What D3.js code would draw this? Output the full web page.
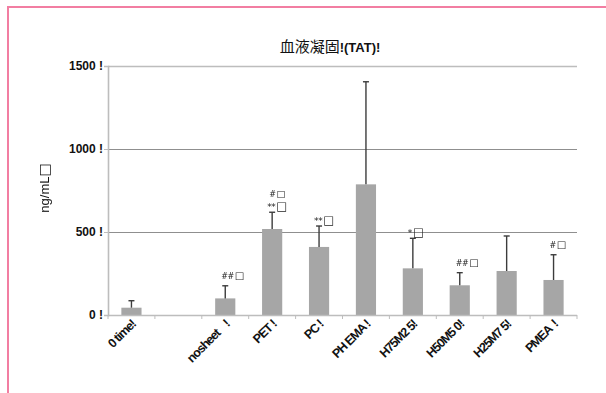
<!DOCTYPE html>
<html>
<head>
<meta charset="utf-8">
<script src="https://cdn.jsdelivr.net/npm/d3@7"></script>
<style>
  html, body { margin: 0; padding: 0; background: #fff; }
  svg { display: block; font-family: "Liberation Sans", Arial, sans-serif; }
  .xl { white-space: pre; }
</style>
</head>
<body>
<svg id="chart" width="606" height="393"></svg>
<script>
// TAT measurements per sheet material (ng/mL), mean and upper SD
const categories = ["0 time!", "", "nosheet    !", "PET !", "PC !", "PH EMA !", "H75M2 5!", "H50M5 0!", "H25M7 5!", "PMEA  !"];
const means      = [44, null, 100, 518, 410, 787, 281, 179, 265, 211];
const upperError = [86, null, 176, 619, 536, 1405, 462, 255, 476, 363];
const markSmall  = ["", "", "##", "#", "", "", "", "##", "", "#"];
const markLarge  = ["", "", "", "**", "**", "", "*", "", "", ""];
const boxGlyph   = "\u25A1";
const yTicks     = [0, 500, 1000, 1500];
const yTickLabels = ["0 !", "500 !", "1000 !", "1500 !"];
const title = "\u8840\u6db2\u51dd\u56fa";
const titleTail = "!(TAT)!";
const yLabel = "ng/mL";

const svg = d3.select("#chart");
const plotLeft = 108, plotRight = 577, plotTop = 66, plotBottom = 315;

// outer frame
svg.append("rect")
  .attr("x", 8).attr("y", 7).attr("width", 700).attr("height", 500)
  .attr("fill", "none").attr("stroke", "#f27ea2").attr("stroke-width", 2);

const x = d3.scaleBand().domain(d3.range(categories.length)).range([plotLeft, plotRight]).paddingInner(0).paddingOuter(0);
const y = d3.scaleLinear().domain([0, 1500]).range([plotBottom, plotTop]);

const defs = svg.append("defs");
defs.append("filter").attr("id", "soft").attr("x", "-20%").attr("y", "-20%").attr("width", "140%").attr("height", "140%")
  .append("feGaussianBlur").attr("stdDeviation", 0.7);
// grayscale text rasterisation for the thin square glyphs
defs.append("filter").attr("id", "flat").attr("x", "-10%").attr("y", "-10%").attr("width", "120%").attr("height", "120%")
  .append("feOffset").attr("dx", 0).attr("dy", 0);

// gridlines
svg.append("g").selectAll("line").data(yTicks.filter(v => v > 0)).join("line")
  .attr("x1", plotLeft).attr("x2", plotRight)
  .attr("y1", d => y(d) + 0.5).attr("y2", d => y(d) + 0.5)
  .attr("stroke", d => d === 1500 ? "#bdbdbd" : "#8f8f8f")
  .attr("stroke-width", d => d === 1500 ? 1.6 : 1);

// bars
const barW = x.bandwidth() * 0.43;
const idx = d3.range(categories.length).filter(i => means[i] != null);
svg.append("g").attr("filter", "url(#soft)").selectAll("rect").data(idx).join("rect")
  .attr("x", i => x(i) + (x.bandwidth() - barW) / 2)
  .attr("width", barW)
  .attr("y", i => y(means[i]))
  .attr("height", i => y(0) - y(means[i]))
  .attr("fill", "#a6a6a6");

// error bars (upper only)
const eg = svg.append("g").attr("stroke", "#3c3c3c").attr("stroke-width", 1.4);
idx.forEach(i => {
  const cx = x(i) + x.bandwidth() / 2;
  eg.append("line").attr("x1", cx).attr("x2", cx).attr("y1", y(means[i])).attr("y2", y(upperError[i]));
  eg.append("line").attr("x1", cx - 3).attr("x2", cx + 3).attr("y1", y(upperError[i])).attr("y2", y(upperError[i]));
});

// axes
const yAxis = svg.append("g").attr("transform", `translate(${plotLeft},0)`)
  .call(d3.axisLeft(y).tickValues(yTicks).tickSize(4).tickFormat((d, i) => yTickLabels[i]));
yAxis.select(".domain").attr("stroke", "#bdbdbd").attr("stroke-width", 1.6);
yAxis.selectAll(".tick line").attr("stroke", "#bdbdbd");
yAxis.selectAll(".tick text").attr("font-size", 12).attr("font-weight", "bold").attr("fill", "#111").attr("x", -5);

const xAxis = svg.append("g").attr("transform", `translate(0,${plotBottom})`);
xAxis.append("line").attr("x1", plotLeft).attr("x2", plotRight).attr("y1", 0.5).attr("y2", 0.5)
  .attr("stroke", "#bdbdbd").attr("stroke-width", 1.6);
xAxis.selectAll("line.tk").data(d3.range(categories.length + 1)).join("line").attr("class", "tk")
  .attr("x1", i => plotLeft + i * x.step()).attr("x2", i => plotLeft + i * x.step())
  .attr("y1", 0).attr("y2", 4).attr("stroke", "#bdbdbd");
xAxis.selectAll("text").data(d3.range(categories.length)).join("text")
  .attr("class", "xl")
  .attr("transform", i => `translate(${x(i) + x.bandwidth() / 2 + 5},${10}) rotate(-45)`)
  .attr("text-anchor", "end")
  .attr("font-size", 12.5).attr("font-weight", "bold").attr("letter-spacing", -1)
  .attr("fill", "#111")
  .text(i => categories[i]);

// significance marks: symbols followed by a square glyph, one or two lines
const mg = svg.append("g").attr("fill", "#222").attr("filter", "url(#flat)")
  .attr("font-family", "'DejaVu Sans', sans-serif");
function addLine(tx, lx, ly, sym, symSize, boxSize) {
  tx.append("tspan").attr("x", lx).attr("y", ly).attr("font-size", symSize).attr("letter-spacing", -0.4).text(sym);
  tx.append("tspan").attr("dx", 1).attr("font-size", boxSize).text(boxGlyph);
}
idx.forEach(i => {
  const cx = x(i) + x.bandwidth() / 2;
  const et = y(upperError[i]);
  if (!markLarge[i] && !markSmall[i]) return;
  const tx = mg.append("text");
  if (markLarge[i]) {
    if (markSmall[i]) addLine(tx, cx - 3, et - 15.5, markSmall[i], 8, 9.5);
    addLine(tx, cx - 5, et - 2, markLarge[i], 9, 11.5);
  } else {
    addLine(tx, cx - 4, et - 7, markSmall[i], 8, 10);
  }
});

// title
const t = svg.append("text").attr("x", 330).attr("y", 52).attr("text-anchor", "middle")
  .attr("font-size", 15).attr("fill", "#111");
t.append("tspan").attr("font-family", "'Noto Sans CJK JP', sans-serif").text(title);
t.append("tspan").attr("font-weight", "bold").attr("font-size", 13).text(titleTail);

// y axis title
const yl = svg.append("text").attr("transform", "translate(49,188) rotate(-90)").attr("text-anchor", "middle")
  .attr("font-size", 13).attr("fill", "#111").attr("filter", "url(#flat)");
yl.append("tspan").text(yLabel);
yl.append("tspan").attr("font-family", "'DejaVu Sans', sans-serif").attr("font-size", 14).text(boxGlyph);
</script>
</body>
</html>
